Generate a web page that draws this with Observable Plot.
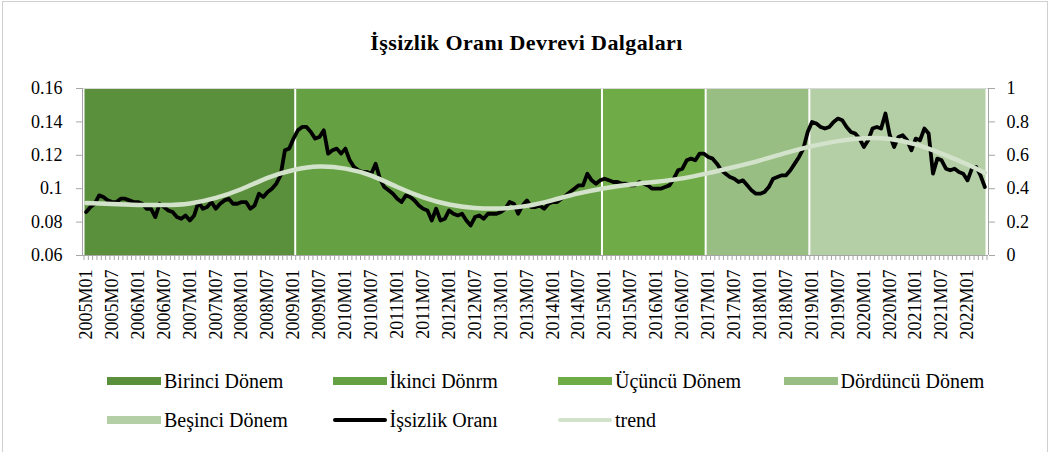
<!DOCTYPE html>
<html>
<head>
<meta charset="utf-8">
<script src="https://cdn.jsdelivr.net/npm/d3@7"></script>
<script src="https://cdn.jsdelivr.net/npm/@observablehq/plot@0.6"></script>
<style>
  body { margin: 0; background: #fff; font-family: "Liberation Serif", "DejaVu Serif", serif; }
  #frame { position: absolute; left: 2px; top: 1px; width: 1046px; height: 480px; border: 1px solid #d0d0d0; box-sizing: border-box; }
  #wrap { position: absolute; left: 0; top: 0; width: 1053px; }
  #title { height: 60px; box-sizing: border-box; padding-top: 30px; line-height: 26px; text-align: center; font-weight: bold; font-size: 22px; letter-spacing: 0.4px; color: #000; font-family: "Liberation Serif", serif; }
  #chart svg { display: block; }
  #legend { position: relative; height: 90px; font-size: 20px; color: #000; font-family: "Liberation Serif", serif; }
  .item { position: absolute; display: flex; align-items: center; white-space: nowrap; height: 24px; font-family: "Liberation Serif", serif; font-size: 20px; }
  .sw { width: 54px; margin-right: 3px; display: inline-block; }
</style>
</head>
<body>
<div id="frame"></div>
<div id="wrap">
  <div id="title">İşsizlik Oranı Devrevi Dalgaları</div>
  <div id="chart"></div>
  <div id="legend"></div>
</div>
<script>
// ---------- DATA ----------
const startYear = 2005;
const nMonths = 209; // 2005M01 .. 2022M05
const categories = Array.from({length: nMonths}, (_, i) =>
  `${startYear + Math.floor(i / 12)}M${String(i % 12 + 1).padStart(2, "0")}`);

const tickLabels = ["2005M01","2005M07","2006M01","2006M07","2007M01","2007M07","2008M01","2008M07",
  "2009M01","2009M07","2010M01","2010M07","2011M01","2011M07","2012M01","2012M07","2013M01","2013M07",
  "2014M01","2014M07","2015M01","2015M07","2016M01","2016M07","2017M01","2017M07","2018M01","2018M07",
  "2019M01","2019M07","2020M01","2020M07","2021M01","2021M07","2022M01"];

const unemployment = [
  0.086, 0.089, 0.091, 0.096, 0.095, 0.093, 0.092, 0.092, 0.094, 0.094,
  0.093, 0.092, 0.092, 0.091, 0.088, 0.088, 0.083, 0.091, 0.089, 0.087,
  0.086, 0.083, 0.082, 0.084, 0.081, 0.084, 0.092, 0.088, 0.089, 0.092,
  0.088, 0.091, 0.093, 0.094, 0.091, 0.091, 0.092, 0.092, 0.088, 0.090,
  0.097, 0.095, 0.098, 0.100, 0.103, 0.108, 0.123, 0.124, 0.130, 0.135,
  0.137, 0.137, 0.134, 0.130, 0.131, 0.135, 0.121, 0.123, 0.124, 0.121,
  0.124, 0.117, 0.113, 0.111, 0.110, 0.110, 0.109, 0.115, 0.106, 0.101,
  0.099, 0.097, 0.094, 0.092, 0.096, 0.095, 0.093, 0.090, 0.088, 0.087,
  0.081, 0.088, 0.081, 0.082, 0.087, 0.085, 0.084, 0.085, 0.081, 0.078,
  0.083, 0.084, 0.082, 0.085, 0.085, 0.085, 0.086, 0.088, 0.092, 0.091,
  0.085, 0.090, 0.093, 0.089, 0.089, 0.090, 0.088, 0.091, 0.092, 0.092,
  0.094, 0.096, 0.098, 0.100, 0.102, 0.102, 0.109, 0.105, 0.103, 0.105,
  0.106, 0.105, 0.104, 0.104, 0.103, 0.103, 0.102, 0.102, 0.104, 0.103,
  0.102, 0.100, 0.100, 0.100, 0.101, 0.102, 0.106, 0.111, 0.112, 0.117,
  0.118, 0.117, 0.121, 0.121, 0.119, 0.118, 0.115, 0.111, 0.109, 0.107,
  0.106, 0.104, 0.105, 0.102, 0.099, 0.097, 0.097, 0.098, 0.101, 0.106,
  0.107, 0.108, 0.108, 0.111, 0.115, 0.119, 0.124, 0.134, 0.140, 0.139,
  0.137, 0.136, 0.137, 0.140, 0.142, 0.141, 0.137, 0.134, 0.133, 0.130,
  0.125, 0.129, 0.136, 0.137, 0.136, 0.145, 0.132, 0.125, 0.131, 0.132,
  0.129, 0.123, 0.130, 0.129, 0.136, 0.133, 0.109, 0.118, 0.117, 0.112,
  0.111, 0.112, 0.110, 0.109, 0.105, 0.112, 0.113, 0.108, 0.101
];

const trendLabels = tickLabels.concat(["2022M05"]);
const trendValues = [
  0.0915, 0.0908, 0.0903, 0.0902, 0.0912, 0.0945, 0.0998, 0.1065,
  0.1112, 0.1133, 0.1120, 0.1078, 0.1010, 0.0948, 0.0905, 0.0885,
  0.0882, 0.0897, 0.0932, 0.0972, 0.1003, 0.1025, 0.1042, 0.1062,
  0.1093, 0.1130, 0.1170, 0.1215, 0.1255, 0.1285, 0.1302, 0.1298,
  0.1265, 0.1210, 0.1145, 0.1095
];

const periodNames  = ["Birinci Dönem", "İkinci Dönrm", "Üçüncü Dönem", "Dördüncü Dönem", "Beşinci Dönem"];
const periodStarts = ["2005M01", "2009M02", "2015M01", "2017M01", "2019M01"];
const periodEnds   = ["2009M01", "2014M12", "2016M12", "2018M12", "2022M05"];

const yTicks = [0.06, 0.08, 0.10, 0.12, 0.14, 0.16];
const leftTickLabels  = ["0.06", "0.08", "0.1", "0.12", "0.14", "0.16"];
const rightTickLabels = ["0", "0.2", "0.4", "0.6", "0.8", "1"];

const seriesName = "İşsizlik Oranı";
const trendName = "trend";

// ---------- STYLES ----------
const periodColors = ["#5a8f3b", "#65a042", "#6fac47", "#98be83", "#b4cfa5"];
const lineColor = "#000000";
const trendColor = "#d3e2ca";
const axisGray = "#a6a6a6";

// ---------- BUILD ----------
const idx = new Map(categories.map((c, i) => [c, i]));
const series = unemployment.map((v, i) => ({i, v}));
const trend = trendLabels.map((c, k) => ({i: idx.get(c), v: trendValues[k]}));
const bands = periodNames.map((name, k) => ({
  name, x1: idx.get(periodStarts[k]) - 0.5, x2: idx.get(periodEnds[k]) + 0.5
}));
const xDomain = [-0.85, nMonths - 1 + 0.85];
const yDomain = [yTicks[0], yTicks[yTicks.length - 1]];
const boundaries = Array.from({length: nMonths + 1}, (_, i) => i - 0.5);
const labelIdx = tickLabels.map(l => idx.get(l));

const chart = Plot.plot({
  width: 1053,
  height: 300,
  marginLeft: 82,
  marginRight: 65,
  marginTop: 28,
  marginBottom: 105,
  x: {domain: xDomain, axis: null},
  y: {domain: yDomain, axis: null},
  color: {domain: periodNames, range: periodColors},
  style: {fontFamily: "Liberation Serif, serif", fontSize: "18px", color: "#000", background: "transparent", overflow: "visible"},
  marks: [
    Plot.rect(bands, {x1: "x1", x2: "x2", y1: () => yDomain[0], y2: () => yDomain[1], fill: "name", insetLeft: 1, insetRight: 1}),
    Plot.ruleY([yDomain[1]], {stroke: "#d9d9d9", strokeWidth: 1}),
    Plot.line(series, {x: "i", y: "v", stroke: lineColor, strokeWidth: 3.8, strokeLinejoin: "round", strokeLinecap: "round"}),
    Plot.line(trend, {x: "i", y: "v", curve: "natural", stroke: trendColor, strokeWidth: 4.5}),
    Plot.ruleY([yDomain[0]], {stroke: axisGray, strokeWidth: 1}),
    Plot.ruleX(xDomain, {stroke: axisGray, strokeWidth: 1}),
    Plot.axisY({anchor: "left", ticks: yTicks, tickSize: 6, tickPadding: 14, label: null,
      tickFormat: d => leftTickLabels[yTicks.indexOf(d)], stroke: axisGray, fill: "#000", fontSize: 18}),
    Plot.axisY({anchor: "right", ticks: yTicks, tickSize: 6, tickPadding: 12, label: null,
      tickFormat: d => rightTickLabels[yTicks.indexOf(d)], stroke: axisGray, fill: "#000", fontSize: 18}),
    Plot.axisX({anchor: "bottom", ticks: boundaries, tickSize: 5, tickFormat: () => "", label: null, stroke: axisGray}),
    Plot.axisX({anchor: "bottom", ticks: labelIdx, tickSize: 0, tickPadding: 14, tickRotate: -90, label: null,
      tickFormat: i => categories[i], fill: "#000", fontSize: 18})
  ]
});
document.getElementById("chart").appendChild(chart);

// ---------- LEGEND ----------
const legendItems = periodNames.map((name, k) => ({label: name, kind: "rect", color: periodColors[k]}))
  .concat([{label: seriesName, kind: "line", color: lineColor}, {label: trendName, kind: "line", color: trendColor}]);
const legend = document.getElementById("legend");
legendItems.forEach((it, k) => {
  const col = k % 4, row = Math.floor(k / 4);
  const div = document.createElement("div");
  div.className = "item";
  div.style.left = (107 + col * 225.5) + "px";
  div.style.top = (9 + row * 39) + "px";
  const sw = document.createElement("span");
  sw.className = "sw";
  sw.style.background = it.color;
  sw.style.height = it.kind === "rect" ? "8px" : "4px";
  if (it.kind === "line") sw.style.borderRadius = "2px";
  const tx = document.createElement("span");
  tx.textContent = it.label;
  div.appendChild(sw);
  div.appendChild(tx);
  legend.appendChild(div);
});
</script>
</body>
</html>
